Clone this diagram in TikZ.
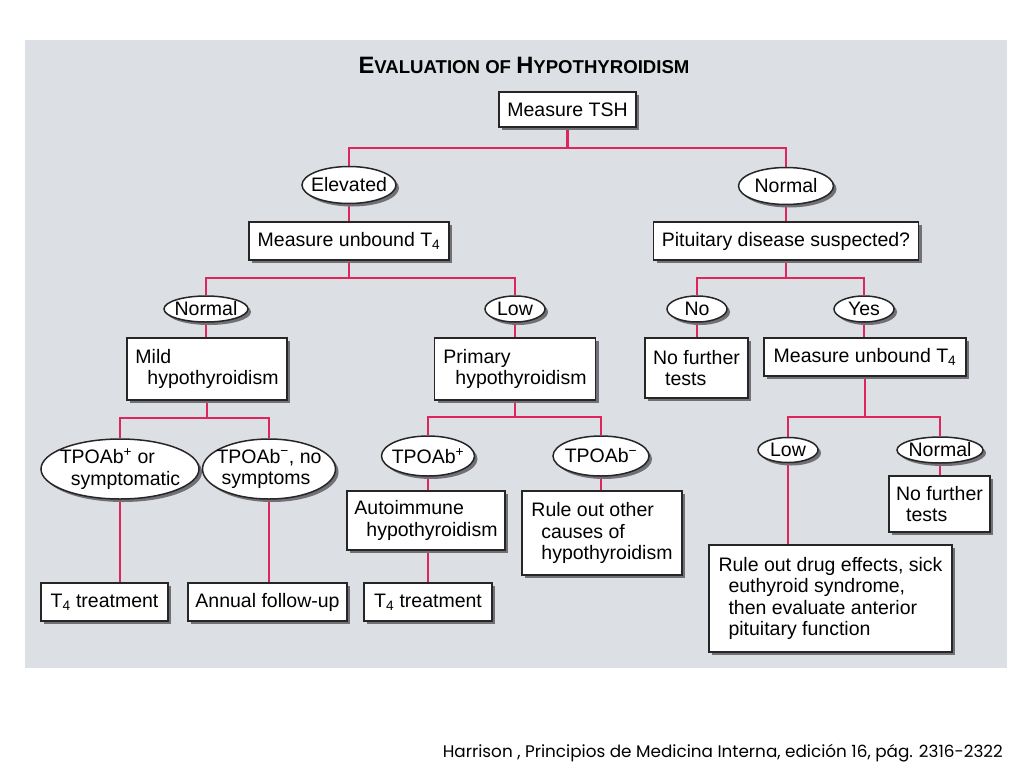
\documentclass[tikz,border=0pt]{standalone}
\usepackage{fontspec}
\usepackage{graphicx}
\setmainfont{Liberation Sans}
\newfontfamily\capfont{Poppins}
\usetikzlibrary{shapes.geometric,shadows}
\definecolor{panel}{RGB}{220,224,229}
\definecolor{linkred}{RGB}{222,38,92}
\definecolor{shade}{RGB}{112,112,118}
\newcommand{\tcap}[1]{{\fontsize{23.7}{24}\selectfont #1}}
\newcommand{\Tf}{T\textsubscript{4}}
\newcommand{\mns}{\textsuperscript{\char"2212}}
\pgfdeclarelayer{back}
\pgfdeclarelayer{mid}
\pgfsetlayers{back,mid,main}
\tikzset{
  boxnode/.style={draw=black!85, line width=1.5pt, fill=white, rectangle, inner sep=0pt,
    align=left, font=\fontsize{19.5}{21.5}\selectfont,
    drop shadow={shadow xshift=3pt, shadow yshift=-3pt, fill=shade, opacity=1}},
  ovalnode/.style={draw=black!85, line width=1.5pt, fill=white, ellipse, inner sep=-10pt,
    align=left, font=\fontsize{19.5}{21.5}\selectfont,
    drop shadow={shadow xshift=3pt, shadow yshift=-3pt, fill=shade, opacity=1}},
  link/.style={draw=linkred, line width=2.8pt},
}
\begin{document}
\begin{tikzpicture}[x=1pt,y=-1pt]
\useasboundingbox (0,0) rectangle (1024,768);
\begin{pgfonlayer}{back}
  \fill[white] (0,0) rectangle (1024,768);
  \fill[panel] (25,40) rectangle (1007,668);
\end{pgfonlayer}

\node[anchor=base, font=\bfseries\fontsize{18.6}{24}\selectfont] (title) at (524,73)
  {\tcap{E}VALUATION OF \tcap{H}YPOTHYROIDISM};

% level 0
\node[boxnode, minimum width=137pt, minimum height=35pt] (tsh) at (567.5,109.5) {Measure TSH};
% level 1
\node[ovalnode, minimum width=94pt, minimum height=37pt] (elev) at (349,185) {Elevated};
\node[ovalnode, minimum width=95pt, minimum height=37pt] (norm1) at (786,186) {Normal};
\node[boxnode, minimum width=200pt, minimum height=38pt] (mut1) at (349,241) {Measure unbound \Tf};
\node[boxnode, minimum width=265pt, minimum height=38pt] (pit) at (786,241) {Pituitary disease suspected?};
% level 2
\node[ovalnode, minimum width=84pt, minimum height=26pt] (normA) at (206,309) {Normal};
\node[ovalnode, minimum width=60pt, minimum height=26pt] (lowA) at (515,309) {Low};
\node[ovalnode, minimum width=60pt, minimum height=26pt] (no) at (697,309) {No};
\node[ovalnode, minimum width=60pt, minimum height=26pt] (yes) at (864,309) {Yes};
\node[boxnode, minimum width=160pt, minimum height=62pt] (mild) at (207,369) {Mild\\\hspace*{12pt}hypothyroidism};
\node[boxnode, minimum width=161pt, minimum height=62pt] (prim) at (515,369) {Primary\\\hspace*{12pt}hypothyroidism};
\node[boxnode, minimum width=103pt, minimum height=60pt] (nft1) at (696.5,368) {No further\\\hspace*{12pt}tests};
\node[boxnode, minimum width=202pt, minimum height=38pt] (mut2) at (865,357) {Measure unbound \Tf};
% level 3
\node[ovalnode, minimum width=158pt, minimum height=60pt] (tpoor) at (120,469) {TPOAb\textsuperscript{+} or\\\hspace*{11pt}symptomatic};
\node[ovalnode, minimum width=133pt, minimum height=60pt] (tponeg) at (269,469) {TPOAb\mns, no\\\hspace*{5pt}symptoms};
\node[ovalnode, minimum width=93pt, minimum height=40pt] (tpop) at (428,456) {TPOAb\textsuperscript{+}};
\node[ovalnode, minimum width=96pt, minimum height=40pt] (tpom) at (601,456) {TPOAb\mns};
\node[ovalnode, minimum width=60pt, minimum height=25pt] (low2) at (788,450) {Low};
\node[ovalnode, minimum width=86pt, minimum height=26pt] (norm2) at (940,450) {Normal};
\node[boxnode, minimum width=158pt, minimum height=59pt] (auto) at (426,520.5) {Autoimmune\\\hspace*{12pt}hypothyroidism};
\node[boxnode, minimum width=160pt, minimum height=84pt] (ruleo) at (602,533) {Rule out other\\\hspace*{10pt}causes of\\\hspace*{10pt}hypothyroidism};
\node[boxnode, minimum width=101pt, minimum height=56pt] (nft2) at (939.5,504) {No further\\\hspace*{10pt}tests};
\node[boxnode, minimum width=243pt, minimum height=107pt] (rdrug) at (830.5,598.5)
  {Rule out drug effects, sick\\\hspace*{10pt}euthyroid syndrome,\\\hspace*{10pt}then evaluate anterior\\\hspace*{10pt}pituitary function};
% level 4
\node[boxnode, minimum width=127pt, minimum height=38pt] (t4a) at (104.5,602) {\Tf{} treatment};
\node[boxnode, minimum width=159pt, minimum height=38pt] (ann) at (267.5,602) {Annual follow-up};
\node[boxnode, minimum width=128pt, minimum height=38pt] (t4b) at (428,602) {\Tf{} treatment};

% junctions
\coordinate (j1) at (567.5,148);
\coordinate (j2) at (349,278);
\coordinate (j3) at (207,418);
\coordinate (j4) at (515,417);
\coordinate (j5) at (786,278);
\coordinate (j6) at (865,417);

\begin{pgfonlayer}{mid}
  \draw[link] (tsh.south) -- (j1);
  \draw[link] (elev.north) |- (j1);
  \draw[link] (norm1.north) |- (j1);
  \draw[link] (elev.south) -- (elev.south |- mut1.north);
  \draw[link] (norm1.south) -- (norm1.south |- pit.north);
  \draw[link] (mut1.south) -- (j2);
  \draw[link] (normA.north) |- (j2);
  \draw[link] (lowA.north) |- (j2);
  \draw[link] (pit.south) -- (j5);
  \draw[link] (no.north) |- (j5);
  \draw[link] (yes.north) |- (j5);
  \draw[link] (normA.south) -- (normA.south |- mild.north);
  \draw[link] (lowA.south) -- (lowA.south |- prim.north);
  \draw[link] (no.south) -- (no.south |- nft1.north);
  \draw[link] (yes.south) -- (yes.south |- mut2.north);
  \draw[link] (mild.south) -- (j3);
  \draw[link] (tpoor.north) |- (j3);
  \draw[link] (tponeg.north) |- (j3);
  \draw[link] (prim.south) -- (j4);
  \draw[link] (tpop.north) |- (j4);
  \draw[link] (tpom.north) |- (j4);
  \draw[link] (mut2.south) -- (j6);
  \draw[link] (low2.north) |- (j6);
  \draw[link] (norm2.north) |- (j6);
  \draw[link] (tpoor.south) -- (tpoor.south |- t4a.north);
  \draw[link] (tponeg.south) -- (tponeg.south |- ann.north);
  \draw[link] (tpop.south) -- (tpop.south |- auto.north);
  \draw[link] (tpom.south) -- (tpom.south |- ruleo.north);
  \draw[link] (tpop.south |- auto.south) -- (tpop.south |- t4b.north);
  \draw[link] (low2.south) -- (low2.south |- rdrug.north);
  \draw[link] (norm2.south) -- (norm2.south |- nft2.north);
\end{pgfonlayer}

\node[anchor=base east, inner sep=0pt] (cap) at (1003,757)
  {\resizebox{560pt}{!}{\capfont Harrison , Principios de Medicina Interna, edición 16, pág. 2316-2322}};
\end{tikzpicture}
\end{document}
